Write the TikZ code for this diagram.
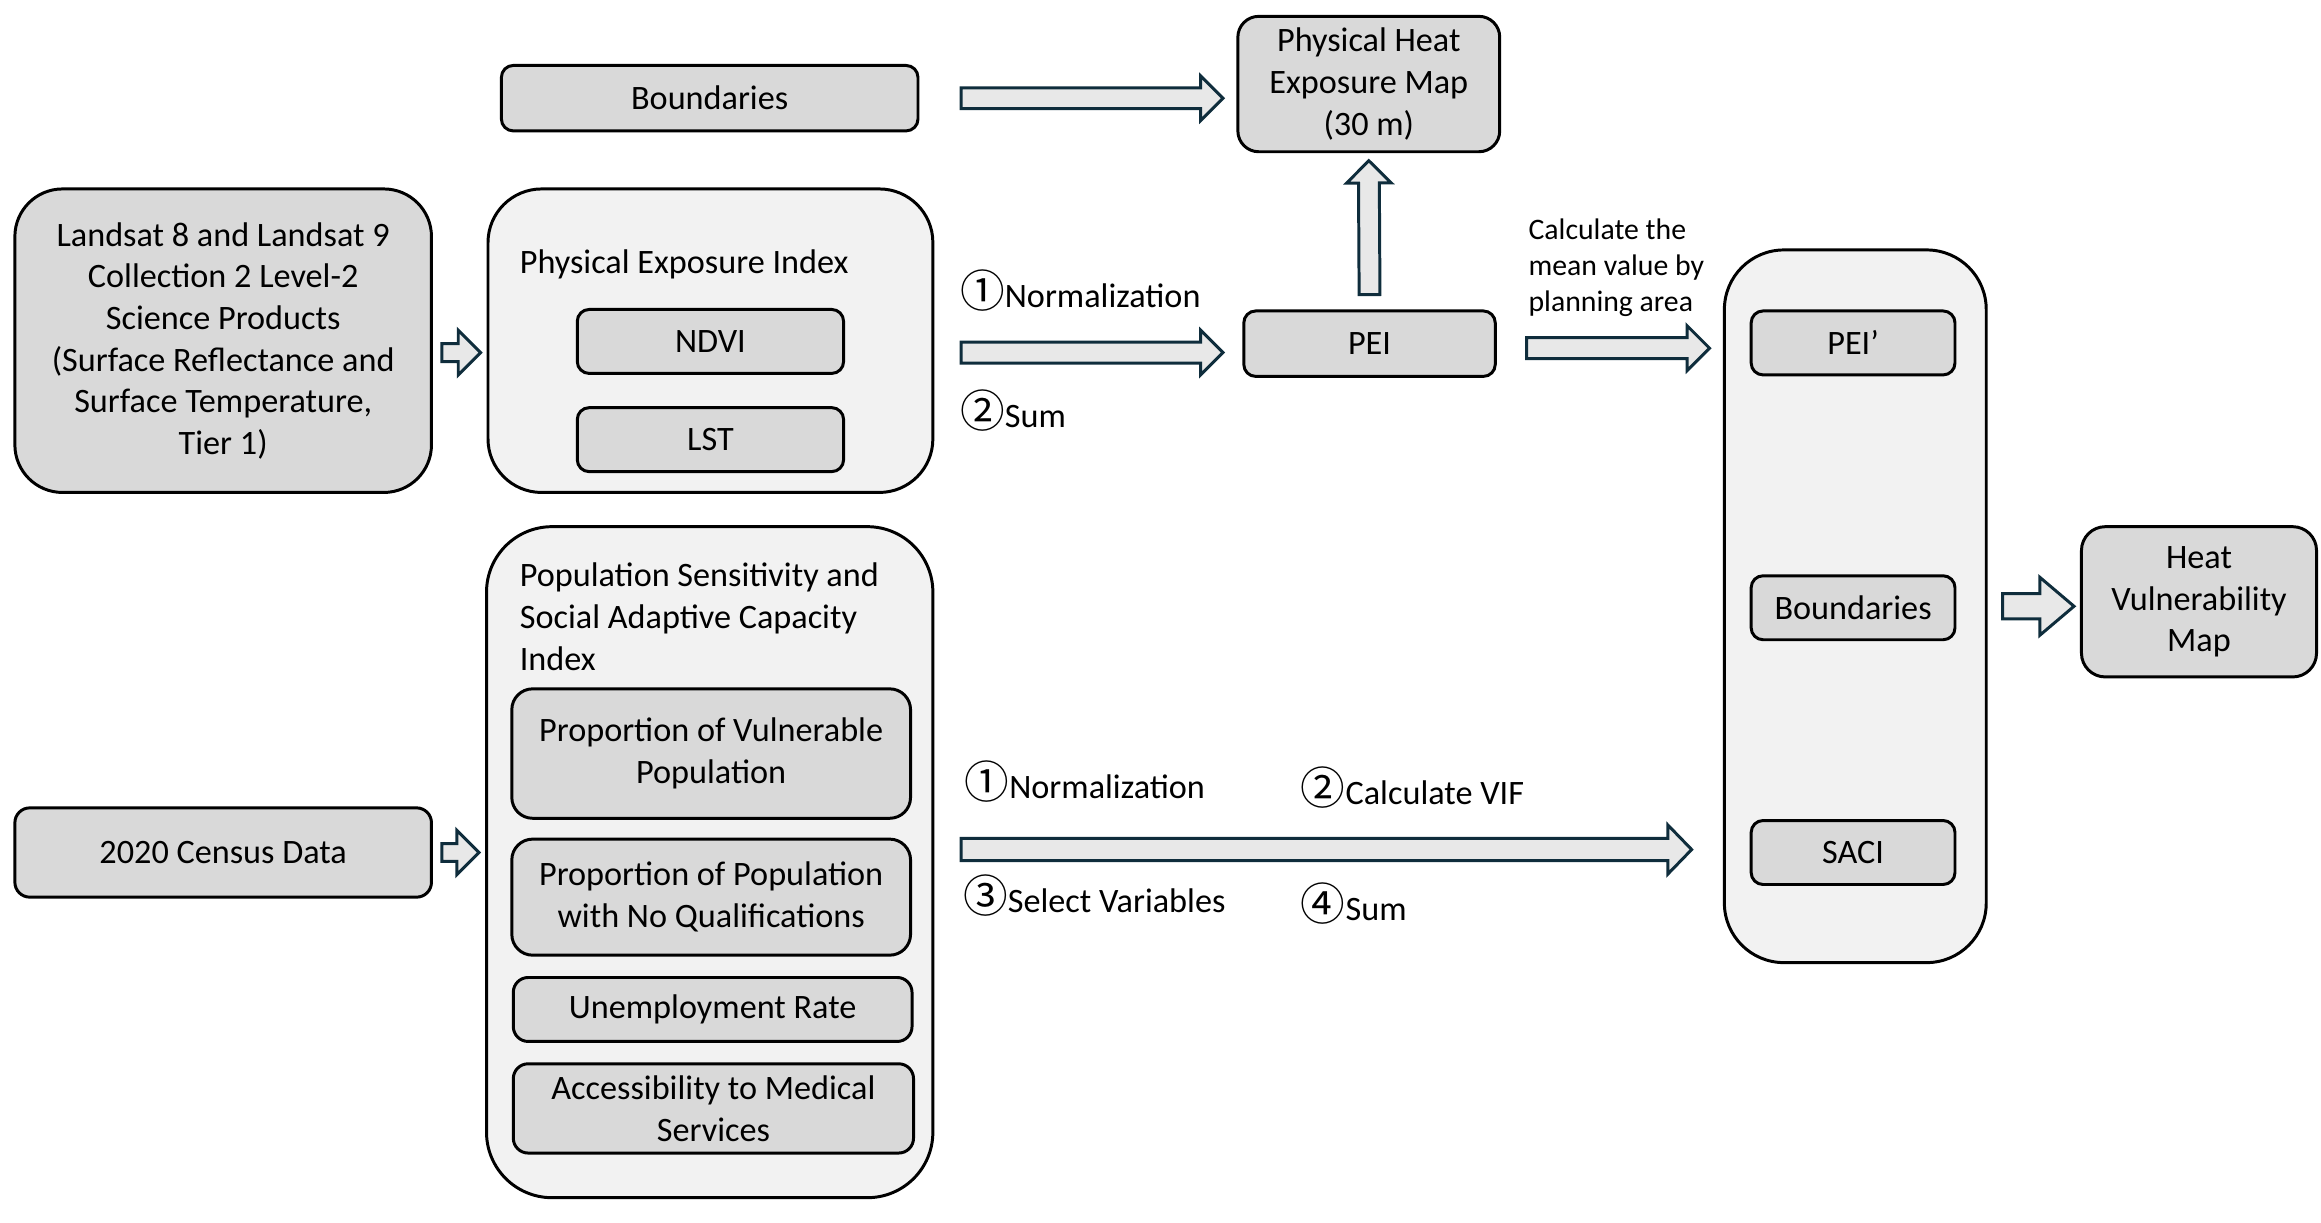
\documentclass[tikz,border=0pt]{standalone}
\usepackage{fontspec}
\setmainfont{Carlito}
\newfontfamily\circfont{Noto Sans CJK SC}
\usetikzlibrary{calc}

\definecolor{arrowline}{HTML}{0F2D3C}
\newcommand\stepno[1]{{\circfont\fontsize{15}{14}\selectfont #1}}

% block arrow: shaft half width, head half width, head length, from, to
\newcommand\fatarrow[5]{%
  \filldraw[fatarr] let \p1=#4, \p2=#5, \n1={atan2(\y2-\y1,\x2-\x1)}, \n2={veclen(\x2-\x1,\y2-\y1)} in
    [shift={(\p1)}, rotate=\n1] (0pt,-#1) -- (\n2-#3,-#1) -- (\n2-#3,-#2) -- (\n2,0pt)
    -- (\n2-#3,#2) -- (\n2-#3,#1) -- (0pt,#1) -- cycle;}

\begin{document}
\begin{tikzpicture}[x=0.5pt,y=-0.5pt, font=\fontsize{11.5}{14}\selectfont,
	box/.style={draw, line width=1pt, fill=gray!30, rounded corners=4pt, align=center, inner sep=0pt},
	panel/.style={draw, line width=1pt, fill=gray!10, rounded corners=18pt, inner sep=0pt},
	fatarr/.style={draw=arrowline, line width=1pt, fill=gray!18, line join=miter},
	note/.style={anchor=west, inner sep=0pt},
	stepnote/.style={anchor=base west, inner sep=0pt}]

    \useasboundingbox (0,0) rectangle (1560,822);

    % physical exposure
    \node[box, minimum width=140pt, minimum height=22pt] (bnd) at (477,66) {Boundaries};
    \node[box, minimum width=88pt, minimum height=45.5pt, rounded corners=7pt] (phem) at (920,56.5) {Physical Heat\\Exposure Map\\(30 m)};
    \node[box, minimum width=140pt, minimum height=102pt, rounded corners=16pt] (lsat) at (150,229) {Landsat 8 and Landsat 9\\Collection 2 Level-2\\Science Products\\(Surface Reflectance and\\Surface Temperature,\\Tier 1)};
    \node[panel, minimum width=149.5pt, minimum height=102pt] (pex) at (477.5,229) {};
    \node[note] (pext) at (349,178) {Physical Exposure Index};
    \node[box, minimum width=89.5pt, minimum height=21.5pt] (ndvi) at (477.5,229.5) {NDVI};
    \node[box, minimum width=89.5pt, minimum height=21.5pt] (lst) at (477.5,295.5) {LST};
    \node[box, minimum width=84.5pt, minimum height=22pt] (pei) at (920.5,231) {PEI};

    % sensitivity and adaptive capacity
    \node[box, minimum width=140pt, minimum height=30pt, rounded corners=5pt] (census) at (150,573) {2020 Census Data};
    \node[panel, minimum width=150pt, minimum height=225.5pt, rounded corners=22pt] (psi) at (477,579.5) {};
    \node[note, anchor=north west, align=left] (psit) at (349,378) {Population Sensitivity and\\Social Adaptive Capacity\\Index};
    \node[box, minimum width=134pt, minimum height=43.5pt, rounded corners=7pt] (vul) at (478,506.5) {Proportion of Vulnerable\\Population};
    \node[box, minimum width=134pt, minimum height=39pt, rounded corners=7pt] (noq) at (478,603) {Proportion of Population\\with No Qualifications};
    \node[box, minimum width=134pt, minimum height=21.5pt, rounded corners=5pt] (unemp) at (479,678.5) {Unemployment Rate};
    \node[box, minimum width=134.5pt, minimum height=30pt, rounded corners=5pt] (med) at (479.5,745) {Accessibility to Medical\\Services};

    % vulnerability
    \node[panel, minimum width=88pt, minimum height=239.5pt, rounded corners=20pt] (rcont) at (1247,407.5) {};
    \node[box, minimum width=68.5pt, minimum height=21.5pt] (peip) at (1245.5,230.5) {PEI’};
    \node[box, minimum width=68.5pt, minimum height=21.5pt] (bnd2) at (1245.5,408.5) {Boundaries};
    \node[box, minimum width=68.5pt, minimum height=21.5pt] (saci) at (1245.5,573) {SACI};
    \node[box, minimum width=79pt, minimum height=50.5pt, rounded corners=8pt] (hvm) at (1478,404.5) {Heat\\Vulnerability\\Map};

    % steps
    \node[stepnote] (norm1) at (645,206.5) {\stepno{①}Normalization};
    \node[stepnote] (sum1) at (645,287.5) {\stepno{②}Sum};
    \node[note, font=\fontsize{10}{12}\selectfont, align=left] (mean) at (1027,180) {Calculate the\\mean value by\\planning area};
    \node[stepnote] (norm2) at (648,536.5) {\stepno{①}Normalization};
    \node[stepnote] (vif) at (874,540.5) {\stepno{②}Calculate VIF};
    \node[stepnote] (sel) at (647,613) {\stepno{③}Select Variables};
    \node[stepnote] (sum2) at (874,619) {\stepno{④}Sum};

    \fatarrow{3.5pt}{7.5pt}{7.5pt}{($(bnd.east)+(28,0)$)}{($(bnd.east -| phem.west)+(-9,0)$)}
    \fatarrow{3pt}{7.5pt}{7.5pt}{($(lsat.east)+(6,8)$)}{($(lsat.east -| pex.west)+(-4,8)$)}
    \fatarrow{3.5pt}{7.5pt}{7.5pt}{($(pex.east)+(18,8)$)}{($(pex.east -| pei.west)+(-13,8)$)}
    \fatarrow{3.5pt}{7.5pt}{7.5pt}{($(pei.north)+(0,-10)$)}{($(phem.south)+(0,5)$)}
    \fatarrow{3.5pt}{7.5pt}{7.5pt}{($(pei.east)+(20,3)$)}{($(pei.east -| rcont.west)+(-9,3)$)}
    \fatarrow{3pt}{7.5pt}{7.5pt}{($(census.east)+(6,0)$)}{($(census.east -| psi.west)+(-4,0)$)}
    \fatarrow{3.75pt}{8.25pt}{8pt}{($(saci.west -| psi.east)+(18,-2)$)}{($(saci.west -| rcont.west)+(-21,-2)$)}
    \fatarrow{4.25pt}{9.75pt}{11.5pt}{($(rcont.east)+(10,0)$)}{($(rcont.east -| hvm.west)+(-4,0)$)}

\end{tikzpicture}
\end{document}
